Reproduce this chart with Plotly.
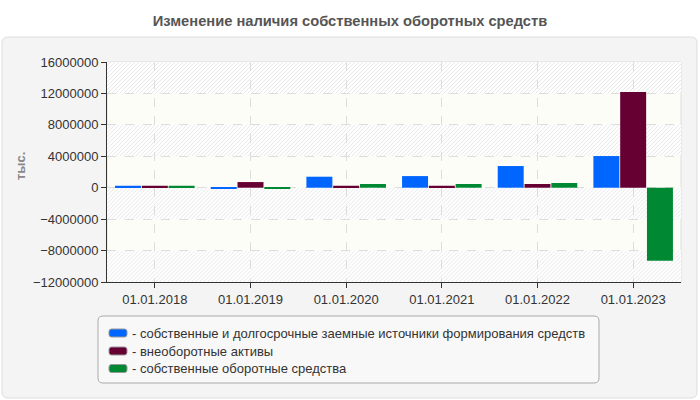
import plotly.graph_objects as go

# Data
dates = ["01.01.2018", "01.01.2019", "01.01.2020", "01.01.2021", "01.01.2022", "01.01.2023"]
own_and_longterm = [250000, -150000, 1400000, 1480000, 2760000, 4030000]
noncurrent_assets = [250000, 720000, 250000, 250000, 470000, 12180000]
own_working_capital = [250000, -150000, 470000, 470000, 600000, -9290000]

series_names = [
    "- собственные и долгосрочные заемные источники формирования средств",
    "- внеоборотные активы",
    "- собственные оборотные средства",
]
series_colors = ["#0066ff", "#660033", "#008833"]

y_min, y_max, y_step = -12000000, 16000000, 4000000

# plot area in pixels (700x400 page)
L, R, T, B = 107, 19, 62, 118
W = 700 - L - R
H = 400 - T - B


def px_x(p):
    return (p - L) / W


def px_y(p):
    return (400 - B - p) / H


def rounded_rect(x0, y0, x1, y1, r):
    # pixel coords -> paper path with rounded corners
    rx, ry = r / W, r / H
    a, b, c, d = px_x(x0), px_y(y1), px_x(x1), px_y(y0)
    return (f"M {a+rx},{b} L {c-rx},{b} Q {c},{b} {c},{b+ry} "
            f"L {c},{d-ry} Q {c},{d} {c-rx},{d} L {a+rx},{d} "
            f"Q {a},{d} {a},{d-ry} L {a},{b+ry} Q {a},{b} {a+rx},{b} Z")


fig = go.Figure()
for name, vals, col in zip(series_names, [own_and_longterm, noncurrent_assets, own_working_capital], series_colors):
    fig.add_trace(go.Bar(x=dates, y=vals, name=name, marker=dict(color=col, line_width=0)))

shapes = [
    # grey panel
    dict(type="path", xref="paper", yref="paper", layer="below",
         path=rounded_rect(2, 37, 697, 398, 6),
         fillcolor="#f4f4f4", line=dict(color="#dddddd", width=1)),
    # plot area background
    dict(type="rect", xref="paper", yref="paper", layer="below",
         x0=0, x1=1, y0=0, y1=1, fillcolor="#fdfdf7", line=dict(color="#dddddd", width=1)),
    # legend box
    dict(type="path", xref="paper", yref="paper", layer="below",
         path=rounded_rect(98, 316, 599, 383, 5),
         fillcolor="#f8f8f8", line=dict(color="#aaaaaa", width=1)),
]

# hatched bands every other tick interval
spacing = 4
band_h = y_step / (y_max - y_min) * H
lo = y_min
k = 0
while lo < y_max:
    if k % 2 == 0:
        u0 = (lo - y_min) / (y_max - y_min) * H
        u1 = u0 + band_h
        shapes.append(dict(type="rect", xref="paper", yref="paper", layer="below",
                           x0=0, x1=1, y0=u0 / H, y1=u1 / H, fillcolor="#ffffff", line_width=0))
        segs = []
        c = -u1
        while c < W:
            ua = max(u0, -c)
            ub = min(u1, W - c)
            if ub > ua:
                segs.append(f"M {(c+ua)/W},{ua/H} L {(c+ub)/W},{ub/H}")
            c += spacing
        shapes.append(dict(type="path", xref="paper", yref="paper", layer="below",
                           path=" ".join(segs), line=dict(color="#e8e8e8", width=1)))
    lo += y_step
    k += 1

# hand-drawn legend (swatches + labels)
annotations = [dict(text="<b>тыс.</b>", textangle=-90, xref="paper", yref="paper",
                    x=px_x(20), y=px_y(166), xanchor="center", yanchor="middle",
                    showarrow=False, font=dict(size=13, color="#888888"))]
row_y = [333, 351, 368.5]
for name, col, ry in zip(series_names, series_colors, row_y):
    shapes.append(dict(type="path", xref="paper", yref="paper", layer="above",
                       path=rounded_rect(109, ry - 4, 127, ry + 4, 2.5),
                       fillcolor=col, line=dict(color="#999999", width=1)))
    annotations.append(dict(text=name, xref="paper", yref="paper", x=px_x(130), y=px_y(ry),
                            xanchor="left", yanchor="middle", showarrow=False,
                            font=dict(size=13, color="#333333")))

fig.update_layout(
    width=700, height=400,
    margin=dict(l=L, r=R, t=T, b=B),
    paper_bgcolor="#ffffff",
    plot_bgcolor="rgba(0,0,0,0)",
    font=dict(family="Liberation Sans, Arial, sans-serif", size=13, color="#333333"),
    title=dict(text="<b>Изменение наличия собственных оборотных средств</b>",
               x=0.5, xref="container", y=1 - 21 / 400, yanchor="middle",
               font=dict(size=14.7, color="#555555")),
    barmode="group", bargap=0.16, bargroupgap=0.03,
    shapes=shapes,
    annotations=annotations,
    showlegend=False,
    xaxis=dict(showgrid=True, gridcolor="#dddddd", griddash="dash", gridwidth=1,
               showline=True, linecolor="#333333", linewidth=1,
               ticks="outside", ticklen=5, tickcolor="#333333",
               tickfont=dict(size=13, color="#333333")),
    yaxis=dict(range=[y_min, y_max], dtick=y_step, tickformat="d",
               showgrid=True, gridcolor="#dddddd", griddash="dash", gridwidth=1,
               zeroline=False, showline=True, linecolor="#333333", linewidth=1,
               ticks="outside", ticklen=5, tickcolor="#333333",
               tickfont=dict(size=13, color="#333333")),
)

fig.write_html("out.html", config={"displayModeBar": False},
               post_script="document.body.style.margin='0';")
